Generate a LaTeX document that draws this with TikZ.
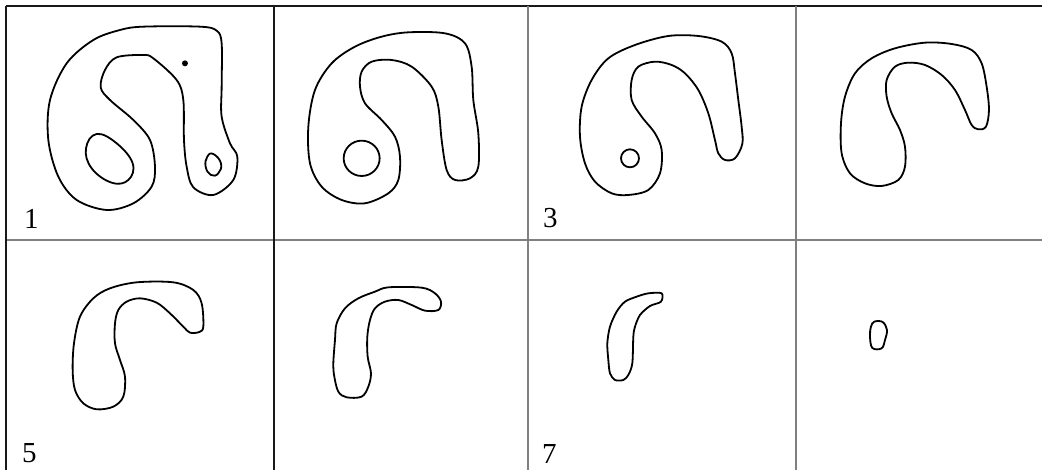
\documentclass[tikz,border=0pt]{standalone}
\usepackage{fontspec}
\setmainfont{Liberation Serif}
\tikzset{
  blob/.style={draw=black, line width=1.8pt, line join=round},
  lbl/.style={anchor=base west, inner sep=0pt, font=\fontsize{29}{32}\selectfont},
  darkrule/.style={draw=black!90, line width=1.4pt},
  greyrule/.style={draw=black!50, line width=1.2pt},
}
\newcommand{\panel}[3]{\begin{scope}[xshift=#1pt, yshift=-#2pt, x=0.3333pt, y=-0.3333pt]#3\end{scope}}
\begin{document}
\begin{tikzpicture}[x=1pt, y=-1pt]
\useasboundingbox (0,0) rectangle (1042,470);
\fill[white] (0,0) rectangle (1042,470);
% grid
\draw[darkrule] (6,6) -- (1042,6);
\draw[greyrule] (6,240) -- (1042,240);
\draw[darkrule] (6,6) -- (6,470);
\draw[darkrule] (274,6) -- (274,470);
\draw[greyrule] (528,6) -- (528,470);
\draw[greyrule] (796,6) -- (796,470);
% panel 1
\panel{0}{0}{
\draw[blob] plot[smooth cycle, tension=0.55] coordinates {
 (430,80) (600,80) (650,92) (665,130) (665,260) (665,350) (690,430) (712,470)
 (700,540) (640,585) (580,562) (560,500) (552,420) (550,300) (530,240)
 (460,175) (430,165) (350,172) (315,210) (302,262) (330,300) (400,360)
 (450,420) (465,500) (455,560) (400,610) (320,630) (230,600) (175,530)
 (145,420) (150,300) (200,190) (280,120) (360,90)};
\draw[blob] plot[smooth cycle, tension=0.7] coordinates {
 (290,402) (350,430) (398,490) (385,540) (335,548) (275,505) (258,445)};
\draw[blob] plot[smooth cycle, tension=0.8] coordinates {
 (640,462) (663,490) (655,520) (633,525) (617,500) (622,470)};
\fill (555,190) circle (9);
}
% panel 2
\panel{265}{0}{
\draw[blob] plot[smooth cycle, tension=0.55] coordinates {
 (430,97) (540,100) (600,130) (620,200) (625,300) (640,400) (640,500)
 (615,535) (570,540) (545,510) (530,420) (520,320) (500,260) (440,200)
 (380,180) (320,185) (290,215) (285,260) (300,310) (350,360) (390,410)
 (405,470) (400,540) (370,580) (300,610) (230,600) (170,560) (135,490)
 (130,380) (150,270) (200,190) (270,140) (350,110)};
\draw[blob] (290,475) ellipse (54 and 53);
}
% panel 3
\panel{525}{0}{
\draw[blob] plot[smooth cycle, tension=0.55] coordinates {
 (430,108) (520,108) (590,125) (620,160) (630,220) (640,300) (650,380)
 (652,432) (630,475) (600,480) (580,460) (570,420) (550,340) (520,270)
 (480,220) (440,195) (390,185) (340,200) (320,240) (320,300) (350,350)
 (390,400) (410,450) (405,520) (370,570) (310,585) (260,580) (210,545)
 (180,490) (165,410) (170,320) (200,240) (250,175) (330,135)};
\draw[blob] (315,475) circle (27);
}
% panel 4
\panel{785}{0}{
\draw[blob] plot[smooth cycle, tension=0.55] coordinates {
 (420,128) (500,132) (560,150) (590,190) (605,260) (612,330) (603,380)
 (580,388) (560,375) (540,330) (510,270) (470,225) (420,195) (370,188)
 (330,200) (305,240) (305,290) (320,340) (345,390) (360,440) (360,500)
 (340,540) (290,558) (240,550) (195,520) (170,460) (168,370) (180,290)
 (210,220) (260,175) (330,145)};
}
% panel 5
\panel{0}{230}{
\draw[blob] plot[smooth cycle, tension=0.55] coordinates {
 (410,157) (520,157) (580,180) (605,220) (610,290) (598,306) (570,308)
 (550,290) (510,250) (470,218) (420,205) (380,215) (355,240) (345,280)
 (345,340) (360,390) (375,440) (370,500) (340,530) (290,538) (250,520)
 (225,480) (218,420) (222,340) (240,260) (280,205) (330,175)};
}
% panel 6
\panel{265}{230}{
\draw[blob] plot[smooth cycle, tension=0.55] coordinates {
 (370,172) (470,173) (510,190) (528,215) (520,240) (480,242) (440,225)
 (400,210) (360,215) (330,235) (315,270) (307,320) (308,380) (318,430)
 (310,470) (290,500) (245,502) (220,485) (208,440) (205,400) (210,330)
 (215,280) (240,235) (280,205) (330,185)};
}
% panel 7
\panel{525}{230}{
\draw[blob] plot[smooth cycle, tension=0.5] coordinates {
 (370,190) (410,190) (408,215) (375,228) (345,255) (330,290) (325,320)
 (322,400) (310,435) (295,450) (270,450) (255,430) (250,390) (247,340)
 (255,290) (275,245) (300,215) (335,200)};
}
% panel 8
\panel{785}{230}{
\draw[blob] plot[smooth cycle, tension=0.6] coordinates {
 (268,275) (293,276) (306,300) (300,330) (290,355) (262,354) (255,320) (258,290)};
}
% labels
\node[lbl] (l1) at (24,229) {1};
\node[lbl] (l3) at (543,228) {3};
\node[lbl] (l5) at (22,462) {5};
\node[lbl] (l7) at (542,463) {7};
\end{tikzpicture}
\end{document}
